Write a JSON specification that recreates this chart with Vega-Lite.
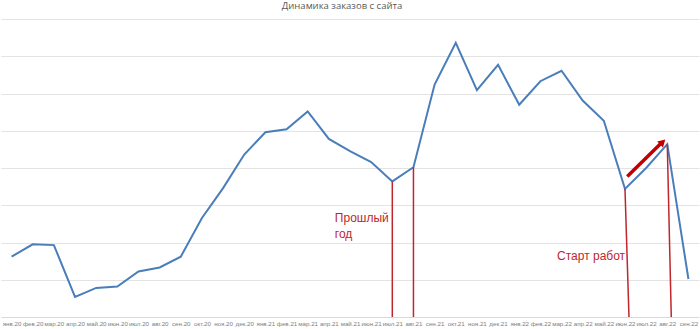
{
  "$schema": "https://vega.github.io/schema/vega-lite/v6.json",
  "width": 698,
  "height": 298,
  "autosize": {"type": "none"},
  "padding": {"left": 1, "top": 19, "right": 1, "bottom": 12},
  "background": "white",
  "config": {"view": {"stroke": null}, "font": "Liberation Sans"},
  "title": {"text": "Динамика заказов с сайта", "fontSize": 9.5, "fontWeight": "normal", "color": "#595959", "offset": 9, "dx": -8, "font": "Open Sans"},
  "datasets": {
    "main": [
      {"m": "янв.20", "v": 1.62}, {"m": "фев.20", "v": 1.95}, {"m": "мар.20", "v": 1.93},
      {"m": "апр.20", "v": 0.54}, {"m": "май.20", "v": 0.78}, {"m": "июн.20", "v": 0.82},
      {"m": "июл.20", "v": 1.22}, {"m": "авг.20", "v": 1.33}, {"m": "сен.20", "v": 1.62},
      {"m": "окт.20", "v": 2.66}, {"m": "ноя.20", "v": 3.46}, {"m": "дек.20", "v": 4.36},
      {"m": "янв.21", "v": 4.96}, {"m": "фев.21", "v": 5.04}, {"m": "мар.21", "v": 5.52},
      {"m": "апр.21", "v": 4.78}, {"m": "май.21", "v": 4.45}, {"m": "июн.21", "v": 4.16},
      {"m": "июл.21", "v": 3.64}, {"m": "авг.21", "v": 4.02}, {"m": "сен.21", "v": 6.24},
      {"m": "окт.21", "v": 7.36}, {"m": "ноя.21", "v": 6.09}, {"m": "дек.21", "v": 6.77},
      {"m": "янв.22", "v": 5.70}, {"m": "фев.22", "v": 6.33}, {"m": "мар.22", "v": 6.61},
      {"m": "апр.22", "v": 5.81}, {"m": "май.22", "v": 5.27}, {"m": "июн.22", "v": 3.44},
      {"m": "июл.22", "v": 4.00}, {"m": "авг.22", "v": 4.64}, {"m": "сен.22", "v": 1.02}
    ]
  },
  "layer": [
    {
      "data": {"name": "main"},
      "mark": {"type": "line", "color": "#4a7ebb", "strokeWidth": 2},
      "encoding": {
        "x": {"field": "m", "type": "ordinal", "sort": null, "title": null,
              "scale": {"type": "point", "padding": 0.5},
              "axis": {"labelAngle": 0, "labelFontSize": 6.2, "labelColor": "#808080", "ticks": false, "labelPadding": 3, "domainColor": "#d9d9d9", "labelFont": "Liberation Sans", "labelOverlap": false}},
        "y": {"field": "v", "type": "quantitative", "title": null,
              "scale": {"domain": [0, 8], "nice": false},
              "axis": {"labels": false, "ticks": false, "domain": false, "grid": true, "gridColor": "#e3e3e3", "values": [1, 2, 3, 4, 5, 6, 7, 8]}}
      }
    },
    {
      "data": {"values": [{"m": "июл.21", "v": 3.64}, {"m": "авг.21", "v": 4.02}]},
      "mark": {"type": "rule", "color": "#c0262d", "strokeWidth": 1.5},
      "encoding": {
        "x": {"field": "m", "type": "ordinal", "sort": null},
        "y": {"field": "v", "type": "quantitative"},
        "y2": {"datum": 0}
      }
    },
    {
      "data": {"values": [{"m": "июн.22", "v": 3.44}, {"m": "авг.22", "v": 4.64}]},
      "mark": {"type": "rule", "color": "#c0262d", "strokeWidth": 1.5, "x2Offset": 4},
      "encoding": {
        "x": {"field": "m", "type": "ordinal", "sort": null},
        "x2": {"field": "m"},
        "y": {"field": "v", "type": "quantitative"},
        "y2": {"datum": 0}
      }
    },
    {
      "data": {"values": [{"from": "июн.22", "to": "авг.22", "v1": 3.77, "v2": 4.68}]},
      "mark": {"type": "rule", "color": "#c00000", "strokeWidth": 3.5, "xOffset": 2.3, "x2Offset": -5.7},
      "encoding": {
        "x": {"field": "from", "type": "ordinal", "sort": null},
        "x2": {"field": "to"},
        "y": {"field": "v1", "type": "quantitative"},
        "y2": {"field": "v2"}
      }
    },
    {
      "data": {"values": [{"m": "авг.22", "v": 4.70}]},
      "mark": {"type": "point", "shape": "triangle-up", "filled": true, "color": "#c00000", "opacity": 1, "size": 70, "angle": 46, "xOffset": -4.6},
      "encoding": {
        "x": {"field": "m", "type": "ordinal", "sort": null},
        "y": {"field": "v", "type": "quantitative"}
      }
    },
    {
      "data": {"values": [{"m": "апр.21", "v": 2.67, "t": ["Прошлый", "год"]}]},
      "mark": {"type": "text", "align": "left", "baseline": "middle", "color": "#c0262d", "fontSize": 12, "lineHeight": 16, "dx": 6},
      "encoding": {
        "x": {"field": "m", "type": "ordinal", "sort": null},
        "y": {"field": "v", "type": "quantitative"},
        "text": {"field": "t"}
      }
    },
    {
      "data": {"values": [{"m": "мар.22", "v": 1.63, "t": "Старт работ"}]},
      "mark": {"type": "text", "align": "left", "baseline": "middle", "color": "#c0262d", "fontSize": 12, "dx": -4.5},
      "encoding": {
        "x": {"field": "m", "type": "ordinal", "sort": null},
        "y": {"field": "v", "type": "quantitative"},
        "text": {"field": "t"}
      }
    }
  ]
}
